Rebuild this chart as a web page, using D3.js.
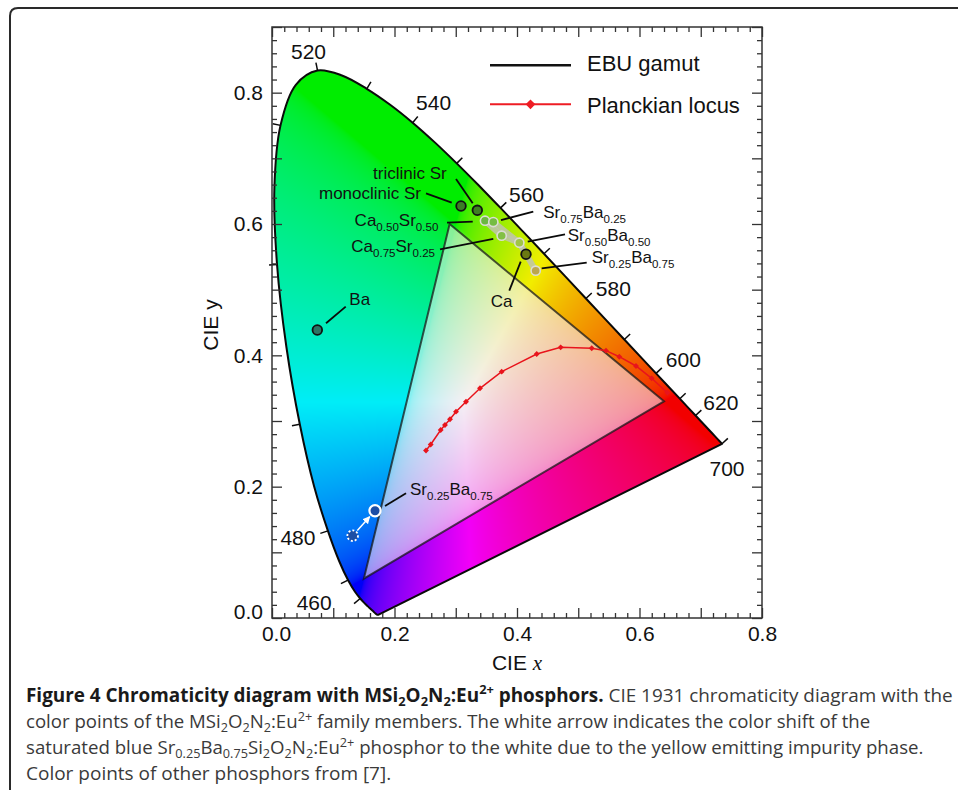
<!DOCTYPE html>
<html>
<head>
<meta charset="utf-8">
<script src="https://cdn.jsdelivr.net/npm/d3@7"></script>
<style>
  body { margin: 0; background: #fff; }
  svg { display: block; }
  text { white-space: pre; }
</style>
</head>
<body>
<svg id="chart" width="958" height="790"></svg>
<script>
// ---------------------------------------------------------------
// Data
// ---------------------------------------------------------------

// CIE 1931 2-degree spectral locus (chromaticity x, y), 5 nm steps
const wavelengths = [380,385,390,395,400,405,410,415,420,425,430,435,440,445,450,455,460,465,470,475,
  480,485,490,495,500,505,510,515,520,525,530,535,540,545,550,555,560,565,570,575,580,585,590,595,
  600,605,610,615,620,625,630,635,640,645,650,655,660,665,670,675,680,685,690,695,700];
const locusX = [0.1741,0.1740,0.1738,0.1736,0.1733,0.1730,0.1726,0.1721,0.1714,0.1703,0.1689,0.1669,0.1644,0.1611,0.1566,0.1510,0.1440,0.1355,0.1241,0.1096,
  0.0913,0.0687,0.0454,0.0235,0.0082,0.0039,0.0139,0.0389,0.0743,0.1142,0.1547,0.1929,0.2296,0.2658,0.3016,0.3373,0.3731,0.4087,0.4441,0.4788,0.5125,0.5448,0.5752,0.6029,
  0.6270,0.6482,0.6658,0.6801,0.6915,0.7006,0.7079,0.7140,0.7190,0.7230,0.7260,0.7283,0.7300,0.7311,0.7320,0.7327,0.7334,0.7340,0.7344,0.7346,0.7347];
const locusY = [0.0050,0.0050,0.0049,0.0049,0.0048,0.0048,0.0048,0.0048,0.0051,0.0058,0.0069,0.0086,0.0109,0.0138,0.0177,0.0227,0.0297,0.0399,0.0578,0.0868,
  0.1327,0.2007,0.2950,0.4127,0.5384,0.6548,0.7502,0.8120,0.8338,0.8262,0.8059,0.7816,0.7543,0.7243,0.6923,0.6589,0.6245,0.5896,0.5547,0.5202,0.4866,0.4544,0.4242,0.3965,
  0.3725,0.3514,0.3340,0.3197,0.3083,0.2993,0.2920,0.2859,0.2809,0.2770,0.2740,0.2717,0.2700,0.2689,0.2680,0.2673,0.2666,0.2660,0.2654,0.2654,0.2653];

// Wavelength marks on the locus and the ones that carry a number
const waveTicks = [460,470,480,490,500,510,520,530,540,550,560,570,580,590,600,610,620,700];
const waveLabels = [460,480,520,540,560,580,600,620,700];

// EBU primaries (R, G, B)
const ebuX = [0.64, 0.29, 0.15];
const ebuY = [0.33, 0.60, 0.06];

// Planckian locus points (from high to low colour temperature)
const planckX = [0.2514,0.2591,0.2754,0.2824,0.2906,0.3004,0.3167,0.3396,0.3750,0.4322,0.4713,0.5220,0.5453,0.5670,0.5943,0.6199,0.6454];
const planckY = [0.2551,0.2642,0.2863,0.2939,0.3026,0.3142,0.3294,0.3498,0.3751,0.4020,0.4122,0.4107,0.4071,0.3979,0.3838,0.3650,0.3431];

// Reference phosphors (dark points)
const refNames = ["Ba", "monoclinic Sr", "triclinic Sr", "Ca"];
const refX = [0.0740, 0.3086, 0.3352, 0.4147];
const refY = [0.4386, 0.6274, 0.6209, 0.5539];

// Solid-solution members (light points)
const mixNames = ["Ca_{0.50}Sr_{0.50}", "Sr_{0.75}Ba_{0.25}", "Ca_{0.75}Sr_{0.25}", "Sr_{0.50}Ba_{0.50}", "Sr_{0.25}Ba_{0.75}"];
const mixX = [0.3478, 0.3613, 0.3750, 0.4038, 0.4305];
const mixY = [0.6050, 0.6030, 0.5822, 0.5715, 0.5289];

// Saturated blue Sr0.25Ba0.75: intrinsic point and measured (shifted) point
const blueName = "Sr_{0.25}Ba_{0.75}";
const blueFromX = 0.1317, blueFromY = 0.1253;
const blueToX = 0.1682, blueToY = 0.1634;

// Axis ticks
const xTickLabels = ["0.0", "0.2", "0.4", "0.6", "0.8"];
const yTickLabels = ["0.0", "0.2", "0.4", "0.6", "0.8"];

// Legend entries
const legendLabels = ["EBU gamut", "Planckian locus"];

// ---------------------------------------------------------------
// Layout
// ---------------------------------------------------------------
const svg = d3.select("#chart");
const FONT = "'Liberation Sans', Arial, Helvetica, sans-serif";

const x = d3.scaleLinear().domain([0, 0.8]).range([272, 762]);
const y = d3.scaleLinear().domain([0, 0.9]).range([618, 27]);

// label offsets (pixels) from the locus point, centre-x / baseline
const waveLabelOffset = {
  460: [-46, 11.5], 480: [-30, 14], 520: [-9, -11.2], 540: [21, -12.7], 560: [26, -6.3],
  580: [27.4, -2.5], 600: [27.3, -6.7], 620: [25.3, -5.5], 700: [5, 32]
};

// annotation placement (pixels) relative to each point
const annotationLayout = {
  "Ba":                  { anchor: "start",  dx: 32,    dy: -25,   leader: [8.7, -6.7, 28.4, -23.3] },
  "monoclinic Sr":       { anchor: "end",    dx: -40,   dy: -7.3,  leader: [-35, -12.7, -9.3, -3.3] },
  "triclinic Sr":        { anchor: "end",    dx: -30.6, dy: -31.3, leader: [-21.3, -31.3, -4.6, -7] },
  "Ca":                  { anchor: "middle", dx: -24.3, dy: 53,    leader: [-16.7, 36.4, -5.3, 7.4] },
  "Ca_{0.50}Sr_{0.50}":  { anchor: "end",    dx: -46.7, dy: 5.3,   leader: [-38, 2, -12.3, 1] },
  "Ca_{0.75}Sr_{0.25}":  { anchor: "end",    dx: -66.7, dy: 16.6,  leader: [-61.7, 13.6, -8.4, 3.3] },
  "Sr_{0.75}Ba_{0.25}":  { anchor: "start",  dx: 50,    dy: -3.7,  leader: [7.7, -2, 40, -10.3] },
  "Sr_{0.50}Ba_{0.50}":  { anchor: "start",  dx: 48.4,  dy: -2,    leader: [8.4, -1, 45.7, -8.4] },
  "Sr_{0.25}Ba_{0.75}":  { anchor: "start",  dx: 56,    dy: -7.4,  leader: [6, -2.4, 51, -8] },
  "blue":                { anchor: "start",  dx: 35,    dy: -15.7, leader: [10, -4.7, 31, -17.4] }
};

const refFill = ["#2b7463", "#3b7c27", "#3e7f22", "#6b7a12"];
const mixFill = ["#62b535", "#6dba36", "#7cbf3a", "#9cc43c", "#b9a248"];

// Rich text: _{..} subscript, ^{..} superscript; tspans are siblings
function rich(sel, str, size, weight, fill, startShift, subDrop) {
  const re = /(_\{[^}]*\}|\^\{[^}]*\})/;
  const drop = subDrop == null ? 0.3 : subDrop;
  let shift = startShift || 0;
  str.split(re).filter(s => s.length).forEach(tok => {
    let kind = 0, t = tok;
    if (tok.startsWith("_{")) { kind = 1; t = tok.slice(2, -1); }
    else if (tok.startsWith("^{")) { kind = -1; t = tok.slice(2, -1); }
    const target = kind === 1 ? size * drop : kind === -1 ? -size * 0.4 : 0;
    const ts = sel.append("tspan").text(t);
    if (target - shift !== 0) ts.attr("dy", (target - shift).toFixed(2));
    if (kind) ts.attr("font-size", (size * 0.68).toFixed(2));
    if (weight) ts.attr("font-weight", weight);
    if (fill) ts.attr("fill", fill);
    shift = target;
  });
  return shift;
}

// ---------------------------------------------------------------
// Figure frame
// ---------------------------------------------------------------
svg.append("path")
  .attr("d", "M10,800 V16 Q10,8 18,8 H965")
  .attr("fill", "none").attr("stroke", "#2a2a2a").attr("stroke-width", 2);

// ---------------------------------------------------------------
// Chromaticity colours inside the spectral locus
// ---------------------------------------------------------------
const locusPts = wavelengths.map((w, i) => [x(locusX[i]), y(locusY[i])]);
const locusPath = d3.line().curve(d3.curveCatmullRom.alpha(0.5))(locusPts) + "Z";

svg.append("clipPath").attr("id", "locusClip").append("path").attr("d", locusPath);

function chromaticityRGB(cx, cy) {
  const X = cx / cy, Y = 1, Z = (1 - cx - cy) / cy;
  let r = 3.2406 * X - 1.5372 * Y - 0.4986 * Z;
  let g = -0.9689 * X + 1.8758 * Y + 0.0415 * Z;
  let b = 0.0557 * X - 0.2040 * Y + 1.0570 * Z;
  r = Math.max(r, 0); g = Math.max(g, 0); b = Math.max(b, 0);
  const m = Math.max(r, g, b) || 1;
  const enc = v => v <= 0.0031308 ? 12.92 * v : 1.055 * Math.pow(v, 1 / 2.4) - 0.055;
  return [enc(r / m) * 255, enc(g / m) * 255, enc(b / m) * 255];
}

(function drawColours() {
  const x0 = x.range()[0], y0 = y.range()[1];
  const w = Math.round(x.range()[1] - x0), h = Math.round(y.range()[0] - y0);
  const canvas = document.createElement("canvas");
  canvas.width = w; canvas.height = h;
  const ctx = canvas.getContext("2d");
  const img = ctx.createImageData(w, h);
  for (let j = 0; j < h; j++) {
    const cy = Math.max(y.invert(y0 + j + 0.5), 0.002);
    for (let i = 0; i < w; i++) {
      const cx = x.invert(x0 + i + 0.5);
      const [r, g, b] = chromaticityRGB(cx, cy);
      const k = (j * w + i) * 4;
      img.data[k] = r * 0.95; img.data[k + 1] = g * 0.93; img.data[k + 2] = b * 0.97; img.data[k + 3] = 255;
    }
  }
  ctx.putImageData(img, 0, 0);
  svg.append("image")
    .attr("x", x0).attr("y", y0).attr("width", w).attr("height", h)
    .attr("preserveAspectRatio", "none")
    .attr("href", canvas.toDataURL())
    .attr("clip-path", "url(#locusClip)");
})();

// EBU gamut triangle
const ebuPts = ebuX.map((v, i) => [x(v), y(ebuY[i])]);
svg.append("path")
  .attr("d", "M" + ebuPts.map(p => p.join(",")).join("L") + "Z")
  .attr("fill", "#f6f2f2").attr("fill-opacity", 0.55)
  .attr("stroke", "#1a1a1a").attr("stroke-opacity", 0.75).attr("stroke-width", 2)
  .attr("stroke-linejoin", "miter");

// Spectral locus outline
svg.append("path").attr("d", locusPath)
  .attr("fill", "none").attr("stroke", "#0a0a0a").attr("stroke-width", 2).attr("stroke-linejoin", "round");

// Wavelength ticks, normal to the locus, pointing outward
const gWave = svg.append("g");
waveTicks.forEach(w => {
  const i = wavelengths.indexOf(w);
  const a = locusPts[Math.max(i - 1, 0)], b = locusPts[Math.min(i + 1, locusPts.length - 1)];
  const p = locusPts[i];
  let nx = b[1] - a[1], ny = -(b[0] - a[0]);
  const len = Math.hypot(nx, ny) || 1; nx /= len; ny /= len;
  const cxp = x(0.33), cyp = y(0.33);
  if ((p[0] - cxp) * nx + (p[1] - cyp) * ny < 0) { nx = -nx; ny = -ny; }
  gWave.append("line")
    .attr("x1", p[0]).attr("y1", p[1]).attr("x2", p[0] + nx * 8).attr("y2", p[1] + ny * 8)
    .attr("stroke", "#0a0a0a").attr("stroke-width", 1.5);
});
waveLabels.forEach(w => {
  const i = wavelengths.indexOf(w);
  const p = locusPts[i], o = waveLabelOffset[w];
  gWave.append("text")
    .attr("x", p[0] + o[0]).attr("y", p[1] + o[1])
    .attr("text-anchor", "middle").attr("font-family", FONT).attr("font-size", 21).attr("fill", "#111")
    .text(w);
});

// Planckian locus
const planck = planckX.map((v, i) => [x(v), y(planckY[i])]);
svg.append("path").attr("d", d3.line()(planck))
  .attr("fill", "none").attr("stroke", "#e8141c").attr("stroke-width", 1.5);
const diamond = d3.symbol().type(d3.symbolDiamond2).size(22);
svg.append("g").selectAll("path").data(planck).join("path")
  .attr("d", diamond).attr("transform", d => `translate(${d[0]},${d[1]})`)
  .attr("fill", "#e8141c");

// ---------------------------------------------------------------
// Phosphor colour points
// ---------------------------------------------------------------
const gPts = svg.append("g");
const mixPx = mixNames.map((n, i) => [x(mixX[i]), y(mixY[i])]);

// composition series connecting the solid-solution members
const seriesLinks = [[0, 1], [0, 2], [1, 3], [2, 3], [3, 4]];
seriesLinks.forEach(([a, b]) => {
  gPts.append("line")
    .attr("x1", mixPx[a][0]).attr("y1", mixPx[a][1]).attr("x2", mixPx[b][0]).attr("y2", mixPx[b][1])
    .attr("stroke", "#bfc4ad").attr("stroke-opacity", 0.85).attr("stroke-width", 6).attr("stroke-linecap", "round");
});
gPts.append("line")
  .attr("x1", mixPx[3][0]).attr("y1", mixPx[3][1]).attr("x2", x(refX[3])).attr("y2", y(refY[3]))
  .attr("stroke", "#bfc4ad").attr("stroke-opacity", 0.85).attr("stroke-width", 6).attr("stroke-linecap", "round");

function annotate(px, py, key, label) {
  const L = annotationLayout[key];
  gPts.append("line")
    .attr("x1", px + L.leader[0]).attr("y1", py + L.leader[1])
    .attr("x2", px + L.leader[2]).attr("y2", py + L.leader[3])
    .attr("stroke", "#0a0a0a").attr("stroke-width", 1.8);
  const t = gPts.append("text")
    .attr("x", px + L.dx).attr("y", py + L.dy)
    .attr("text-anchor", L.anchor).attr("font-family", FONT).attr("font-size", 17).attr("fill", "#111");
  rich(t, label, 17);
}

mixNames.forEach((n, i) => {
  gPts.append("circle").attr("cx", mixPx[i][0]).attr("cy", mixPx[i][1]).attr("r", 4.6)
    .attr("fill", mixFill[i]).attr("fill-opacity", 0.9)
    .attr("stroke", "#dcdcd4").attr("stroke-width", 1.6);
  annotate(mixPx[i][0], mixPx[i][1], n, n);
});

refNames.forEach((n, i) => {
  const px = x(refX[i]), py = y(refY[i]);
  gPts.append("circle").attr("cx", px).attr("cy", py).attr("r", 4.8)
    .attr("fill", refFill[i]).attr("stroke", "#111").attr("stroke-width", 1.8);
  annotate(px, py, n, n);
});

// Blue phosphor: intrinsic point, shift arrow, measured point
svg.append("defs").append("marker")
  .attr("id", "arrowHead").attr("viewBox", "0 0 10 10").attr("refX", 9).attr("refY", 5)
  .attr("markerWidth", 5).attr("markerHeight", 5).attr("orient", "auto")
  .append("path").attr("d", "M0,0L10,5L0,10Z").attr("fill", "#fff");

const bf = [x(blueFromX), y(blueFromY)], bt = [x(blueToX), y(blueToY)];
const ang = Math.atan2(bt[1] - bf[1], bt[0] - bf[0]);
gPts.append("circle").attr("cx", bf[0]).attr("cy", bf[1]).attr("r", 5.3)
  .attr("fill", "#1d4ea6").attr("stroke", "#fff").attr("stroke-width", 1.8).attr("stroke-dasharray", "2,2");
gPts.append("line")
  .attr("x1", bf[0] + Math.cos(ang) * 7).attr("y1", bf[1] + Math.sin(ang) * 7)
  .attr("x2", bt[0] - Math.cos(ang) * 8).attr("y2", bt[1] - Math.sin(ang) * 8)
  .attr("stroke", "#fff").attr("stroke-width", 1.5).attr("marker-end", "url(#arrowHead)");
gPts.append("circle").attr("cx", bt[0]).attr("cy", bt[1]).attr("r", 5.6)
  .attr("fill", "#1d4ea6").attr("stroke", "#fff").attr("stroke-width", 2.2);
annotate(bt[0], bt[1], "blue", blueName);

// ---------------------------------------------------------------
// Axes (ticks inside, on all four sides)
// ---------------------------------------------------------------
const major = d3.range(0, 9).map(i => i / 10);
const minor = d3.range(0, 41).map(i => i / 50).filter((v, i) => i % 5 !== 0);
const yMajor = d3.range(0, 10).map(i => i / 10);
const yMinor = d3.range(0, 46).map(i => i / 50).filter((v, i) => i % 5 !== 0);
const xLab = new Map(xTickLabels.map(s => [Math.round(+s * 10), s]));
const yLab = new Map(yTickLabels.map(s => [Math.round(+s * 10), s]));

function styleAxis(g) {
  g.select(".domain").remove();
  g.selectAll(".tick line").attr("stroke", "#333").attr("stroke-width", 1.3);
  g.selectAll(".tick text").attr("font-family", FONT).attr("font-size", 21).attr("fill", "#111");
}
const gAx = svg.append("g");
gAx.append("g").attr("transform", `translate(0,${y.range()[0]})`)
  .call(d3.axisBottom(x).tickValues(major).tickSize(-10).tickPadding(8)
    .tickFormat(d => xLab.get(Math.round(d * 10)) || ""))
  .call(styleAxis)
  .call(g => g.selectAll(".tick text").filter(d => d === 0).attr("dx", 4));
gAx.append("g").attr("transform", `translate(0,${y.range()[0]})`)
  .call(d3.axisBottom(x).tickValues(minor).tickSize(-5).tickFormat("")).call(styleAxis);
gAx.append("g").attr("transform", `translate(0,${y.range()[1]})`)
  .call(d3.axisTop(x).tickValues(major).tickSize(-10).tickFormat("")).call(styleAxis);
gAx.append("g").attr("transform", `translate(0,${y.range()[1]})`)
  .call(d3.axisTop(x).tickValues(minor).tickSize(-5).tickFormat("")).call(styleAxis);

gAx.append("g").attr("transform", `translate(${x.range()[0]},0)`)
  .call(d3.axisLeft(y).tickValues(yMajor).tickSize(-10).tickPadding(9)
    .tickFormat(d => yLab.get(Math.round(d * 10)) || ""))
  .call(styleAxis)
  .call(g => g.selectAll(".tick text").filter(d => d === 0).attr("dy", "0.32em").attr("y", -6));
gAx.append("g").attr("transform", `translate(${x.range()[0]},0)`)
  .call(d3.axisLeft(y).tickValues(yMinor).tickSize(-5).tickFormat("")).call(styleAxis);
gAx.append("g").attr("transform", `translate(${x.range()[1]},0)`)
  .call(d3.axisRight(y).tickValues(yMajor).tickSize(-10).tickFormat("")).call(styleAxis);
gAx.append("g").attr("transform", `translate(${x.range()[1]},0)`)
  .call(d3.axisRight(y).tickValues(yMinor).tickSize(-5).tickFormat("")).call(styleAxis);

// plot frame
svg.append("rect")
  .attr("x", x.range()[0]).attr("y", y.range()[1])
  .attr("width", x.range()[1] - x.range()[0]).attr("height", y.range()[0] - y.range()[1])
  .attr("fill", "none").attr("stroke", "#333").attr("stroke-width", 1.5);

// axis titles
const xt = svg.append("text").attr("x", 517).attr("y", 670).attr("text-anchor", "middle")
  .attr("font-family", FONT).attr("font-size", 21).attr("fill", "#111");
xt.append("tspan").text("CIE ");
xt.append("tspan").text("x").attr("font-family", "'Liberation Serif', 'Times New Roman', serif").attr("font-style", "italic");
svg.append("text").attr("transform", "translate(218,325) rotate(-90)").attr("text-anchor", "middle")
  .attr("font-family", FONT).attr("font-size", 21).attr("fill", "#111").text("CIE y");

// ---------------------------------------------------------------
// Legend
// ---------------------------------------------------------------
const gLeg = svg.append("g");
gLeg.append("line").attr("x1", 490).attr("x2", 571).attr("y1", 65.3).attr("y2", 65.3)
  .attr("stroke", "#111").attr("stroke-width", 2.5);
gLeg.append("line").attr("x1", 490).attr("x2", 571).attr("y1", 104.3).attr("y2", 104.3)
  .attr("stroke", "#ee1c24").attr("stroke-width", 2);
gLeg.append("path").attr("d", d3.symbol().type(d3.symbolDiamond2).size(60))
  .attr("transform", "translate(530.5,104.3)").attr("fill", "#ee1c24");
gLeg.selectAll("text").data(legendLabels).join("text")
  .attr("x", 587).attr("y", (d, i) => [70.7, 112.7][i])
  .attr("font-family", FONT).attr("font-size", 22).attr("fill", "#111")
  .text(d => d);

// ---------------------------------------------------------------
// Caption (each line sized to fill its measure)
// ---------------------------------------------------------------
const CAPFONT = "'Open Sans', 'Noto Sans', sans-serif";
const captionLines = [
  [{ t: "Figure 4 Chromaticity diagram with MSi_{2}O_{2}N_{2}:Eu^{2+} phosphors.", b: true },
   { t: " CIE 1931 chromaticity diagram with the" }],
  [{ t: "color points of the MSi_{2}O_{2}N_{2}:Eu^{2+} family members. The white arrow indicates the color shift of the" }],
  [{ t: "saturated blue Sr_{0.25}Ba_{0.75}Si_{2}O_{2}N_{2}:Eu^{2+} phosphor to the white due to the yellow emitting impurity phase." }],
  [{ t: "Color points of other phosphors from [7]." }]
];
const captionRight = [953, 871, 924, 397];
const captionLeft = 26, captionTop = 702, captionStep = 26, capSize = 18;

function fillCaption(t, segs, size) {
  t.selectAll("tspan").remove();
  t.attr("font-size", size);
  let shift = 0;
  segs.forEach(s => {
    shift = rich(t, s.t, size, s.b ? 700 : null, s.b ? "#1a1a1a" : "#3a3a3a", shift, 0.2);
  });
}
captionLines.forEach((segs, li) => {
  const t = svg.append("text")
    .attr("x", captionLeft).attr("y", captionTop + li * captionStep)
    .attr("font-family", CAPFONT).attr("fill", "#3a3a3a");
  fillCaption(t, segs, capSize);
  const w = t.node().getComputedTextLength();
  const size = Math.min(capSize * (captionRight[li] - captionLeft) / w, 19);
  fillCaption(t, segs, +size.toFixed(2));
});
</script>
</body>
</html>
